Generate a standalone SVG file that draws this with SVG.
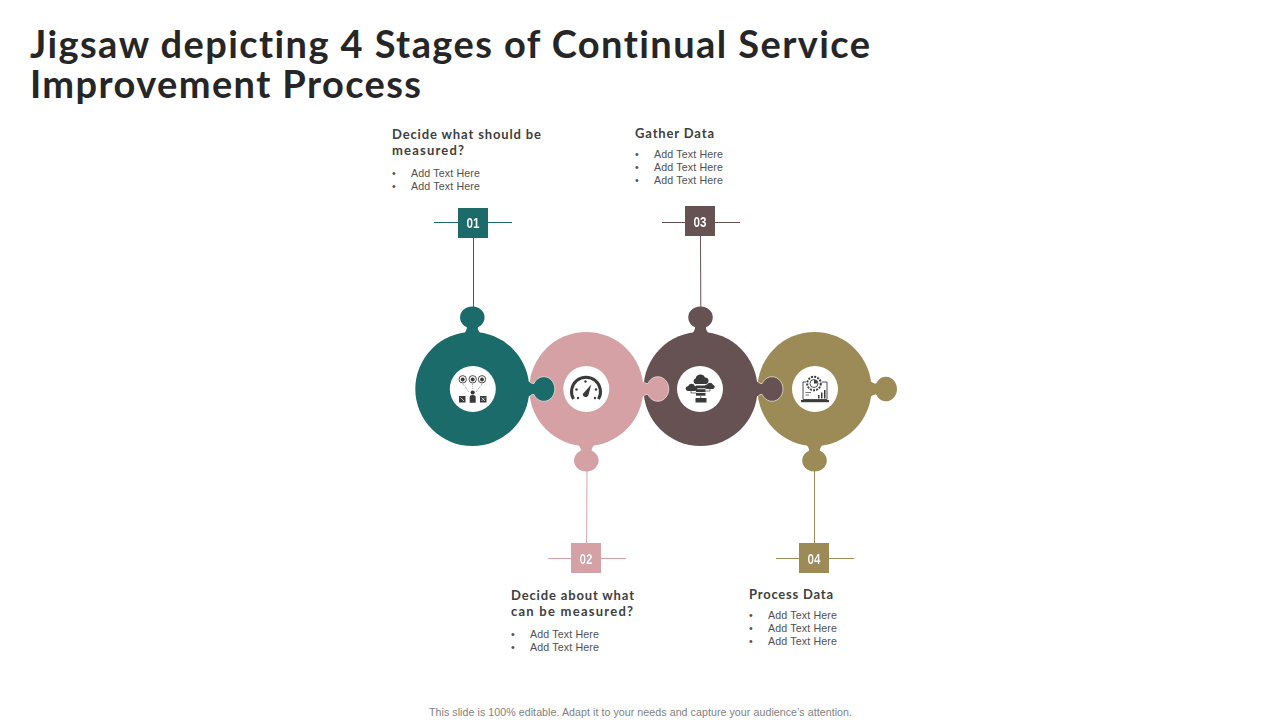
<svg xmlns="http://www.w3.org/2000/svg" width="1280" height="720" viewBox="0 0 1280 720">
<style>
text{font-family:"Liberation Sans",Arial,sans-serif;font-variant-ligatures:none}
.title{font-family:"Lato","Liberation Sans",sans-serif;font-weight:700;font-size:38px;fill:#262626}
.head{font-family:"Lato","Liberation Sans",sans-serif;font-weight:700;font-size:13px;fill:#404040}
.body{font-size:10.67px;fill:#505050}
.foot{font-size:10.67px;fill:#7f7f7f}
.num{font-weight:700;font-size:15px;fill:#fff;text-anchor:middle;filter:drop-shadow(0.6px 0.6px 0.4px rgba(0,0,0,.45))}
.hole{fill:#fff}
.ic{fill:#3a3a3a}
.icl{fill:none;stroke:#3a3a3a}
.teal{fill:#1b6b6b}.pink{fill:#d5a1a5}.brown{fill:#675253}.gold{fill:#9c8a57}
.lteal{stroke:#1b6b6b}.lpink{stroke:#d5a1a5}.lbrown{stroke:#675253}.lgold{stroke:#9c8a57}
#connectors line{stroke-width:1;fill:none}
.edge{fill:none;stroke:#f3ece4;stroke-width:.7}
</style>
<defs>
<path id="knob" d="M51,-10.500C56,-8.500 58.500,-5 61.660,-5.500A11,12.300 0 1 1 61.660,5.500C58.500,5 56,8.500 51,10.500Z"/>
<path id="knob-edge" d="M57.500,-7.500C59,-5.500 60,-5.300 61.660,-5.500A11,12.300 0 1 1 61.660,5.500C60,5.300 59,5.500 57.500,7.500"/>
</defs>
<text class="title" x="30" y="58" textLength="840" lengthAdjust="spacing">Jigsaw depicting 4 Stages of Continual Service</text>
<text class="title" x="30" y="98" textLength="391" lengthAdjust="spacing">Improvement Process</text>
<g id="connectors">
<line class="lteal" x1="434" y1="222.500" x2="512" y2="222.500"/><line class="lteal" x1="473.500" y1="238" x2="473.500" y2="308"/>
<line class="lbrown" x1="662" y1="222.500" x2="740" y2="222.500"/><line class="lbrown" x1="700.500" y1="236" x2="700.800" y2="308"/>
<line class="lpink" x1="548" y1="558.500" x2="626" y2="558.500"/><line class="lpink" x1="587" y1="470" x2="586.600" y2="543"/>
<line class="lgold" x1="776" y1="558.500" x2="854" y2="558.500"/><line class="lgold" x1="814.500" y1="470" x2="814.500" y2="543"/>
</g>
<g id="discs">
<circle class="teal" cx="472.300" cy="389" r="57"/>
<circle class="pink" cx="586.300" cy="389" r="57"/>
<circle class="brown" cx="700.500" cy="389" r="57"/>
<circle class="gold" cx="814.500" cy="389" r="57"/>
</g>
<g id="knobs">
<use href="#knob" class="teal" transform="translate(472.300,389) rotate(-90)"/>
<use href="#knob" class="pink" transform="translate(586.300,389) rotate(90)"/>
<use href="#knob" class="brown" transform="translate(700.500,389) rotate(-90)"/>
<use href="#knob" class="gold" transform="translate(814.500,389) rotate(90)"/>
<use href="#knob" class="gold" transform="translate(814.500,389)"/>
<use href="#knob" class="teal" transform="translate(472.300,389)"/>
<use href="#knob-edge" class="edge" transform="translate(472.300,389)"/>
<use href="#knob" class="pink" transform="translate(586.300,389)"/>
<use href="#knob-edge" class="edge" transform="translate(586.300,389)"/>
<use href="#knob" class="brown" transform="translate(700.500,389)"/>
<use href="#knob-edge" class="edge" transform="translate(700.500,389)"/>
</g>
<g id="node-1">
<rect class="teal" x="458" y="208" width="30" height="30"/>
<text class="num" x="473" y="228" textLength="13" lengthAdjust="spacingAndGlyphs">01</text>
<text class="head" x="392" y="139" textLength="149" lengthAdjust="spacing">Decide what should be</text>
<text class="head" x="392" y="155" textLength="72" lengthAdjust="spacing">measured?</text>
<text class="body" x="392" y="177">•</text><text class="body" x="411" y="177" textLength="69">Add Text Here</text>
<text class="body" x="392" y="190">•</text><text class="body" x="411" y="190" textLength="69">Add Text Here</text>
<circle class="hole" cx="472.800" cy="389" r="23"/>
<g class="icl" stroke-width=".9">
<circle cx="462.700" cy="379.300" r="3.700"/><circle cx="472.700" cy="379.300" r="3.700"/><circle cx="482" cy="379.300" r="3.700"/>
<path d="M463,384L469,392M472.700,384V389.500M482,384L476,392" stroke-width=".5" stroke-dasharray="1 .8"/>
</g>
<circle class="ic" cx="462.700" cy="379.500" r="1.900"/><circle class="ic" cx="472.700" cy="379.500" r="1.900"/><circle class="ic" cx="482" cy="379.500" r="1.900"/>
<circle class="ic" cx="472.700" cy="392.500" r="2.100"/><path class="ic" d="M469.700,397Q469.700,395 472.700,395Q475.700,395 475.700,397V402.700H469.700Z"/>
<rect class="ic" x="459" y="396" width="6.500" height="6.500"/><rect class="ic" x="480" y="396" width="6.500" height="6.500"/>
<path d="M460.500,397.500L464,401M481.500,397.500L485,401M485,397.500L481.500,401" stroke="#fff" stroke-width=".7"/>
</g>
<g id="node-2">
<rect class="pink" x="571" y="543" width="30" height="30"/>
<text class="num" x="586" y="563.500" textLength="13" lengthAdjust="spacingAndGlyphs">02</text>
<text class="head" x="511" y="600" textLength="123" lengthAdjust="spacing">Decide about what</text>
<text class="head" x="511" y="616" textLength="122" lengthAdjust="spacing">can be measured?</text>
<text class="body" x="511" y="638">•</text><text class="body" x="530" y="638" textLength="69">Add Text Here</text>
<text class="body" x="511" y="651">•</text><text class="body" x="530" y="651" textLength="69">Add Text Here</text>
<circle class="hole" cx="586.300" cy="389" r="23"/>
<path class="icl" stroke-width="3" d="M573.500,399A14.500,14.500 0 1 1 598.500,399"/>
<path class="ic" d="M591.300,384.500L588.300,395.500A3,3 0 0 1 582.700,394Z"/>
<g class="ic"><circle cx="585.500" cy="381.500" r="1.200"/><circle cx="576.500" cy="389.500" r="1.200"/><circle cx="578" cy="398" r="1.200"/><circle cx="595" cy="398" r="1.200"/><circle cx="596" cy="389.500" r="1.200"/></g>
</g>
<g id="node-3">
<rect class="brown" x="685" y="206" width="30" height="30"/>
<text class="num" x="700" y="226.500" textLength="13" lengthAdjust="spacingAndGlyphs">03</text>
<text class="head" x="635" y="138" textLength="79" lengthAdjust="spacing">Gather Data</text>
<text class="body" x="635" y="158">•</text><text class="body" x="654" y="158" textLength="69">Add Text Here</text>
<text class="body" x="635" y="171">•</text><text class="body" x="654" y="171" textLength="69">Add Text Here</text>
<text class="body" x="635" y="184">•</text><text class="body" x="654" y="184" textLength="69">Add Text Here</text>
<circle class="hole" cx="700" cy="389" r="23"/>
<g class="ic">
<path d="M695.500,384A2.900,2.900 0 0 1 695.500,378.500A5,5 0 0 1 705,377.500A3.300,3.300 0 0 1 706,384Z"/>
<path d="M688,391A2.400,2.400 0 0 1 688,386.200A3.600,3.600 0 0 1 694.800,386A2.500,2.500 0 0 1 694.800,391Z"/>
<path d="M707,389A2.200,2.200 0 0 1 707,384.600A3.300,3.300 0 0 1 713,384.700A2.200,2.200 0 0 1 713,389Z"/>
<rect x="696" y="385.500" width="9.500" height="2.800"/><rect x="696" y="389.200" width="9.500" height="2.800"/><rect x="696" y="392.900" width="9.500" height="2.800"/>
<rect x="695.500" y="398" width="11" height="4.500"/>
</g>
<path class="icl" stroke-width=".7" d="M691,391V393H696M710,389V391H705.500M700.700,395.700V398"/>
</g>
<g id="node-4">
<rect class="gold" x="799" y="543" width="30" height="30"/>
<text class="num" x="814" y="563.500" textLength="13" lengthAdjust="spacingAndGlyphs">04</text>
<text class="head" x="749" y="599" textLength="84" lengthAdjust="spacing">Process Data</text>
<text class="body" x="749" y="619">•</text><text class="body" x="768" y="619" textLength="69">Add Text Here</text>
<text class="body" x="749" y="632">•</text><text class="body" x="768" y="632" textLength="69">Add Text Here</text>
<text class="body" x="749" y="645">•</text><text class="body" x="768" y="645" textLength="69">Add Text Here</text>
<circle class="hole" cx="815" cy="389" r="23"/>
<circle class="icl" cx="814" cy="383.500" r="6.800" stroke-width="2" stroke-dasharray="2 1.200"/>
<circle class="icl" cx="814" cy="383.500" r="4" stroke-width=".9"/>
<path class="ic" d="M814,383.500V380A3.500,3.500 0 0 1 817.500,383.500Z"/>
<path class="icl" stroke-width=".9" d="M806,382H803V399.500H827V382H822"/>
<rect class="ic" x="801" y="400" width="28" height="2.200"/>
<path class="icl" stroke-width=".7" d="M805.500,392.500H811M805.500,395H809"/>
<rect class="ic" x="818" y="395" width="1.500" height="3.500"/><rect class="ic" x="821" y="392.500" width="1.500" height="6"/><rect class="ic" x="824" y="390" width="1.500" height="8.500"/>
</g>
<text class="foot" x="429" y="716" textLength="423" lengthAdjust="spacing">This slide is 100% editable. Adapt it to your needs and capture your audience’s attention.</text>
</svg>
